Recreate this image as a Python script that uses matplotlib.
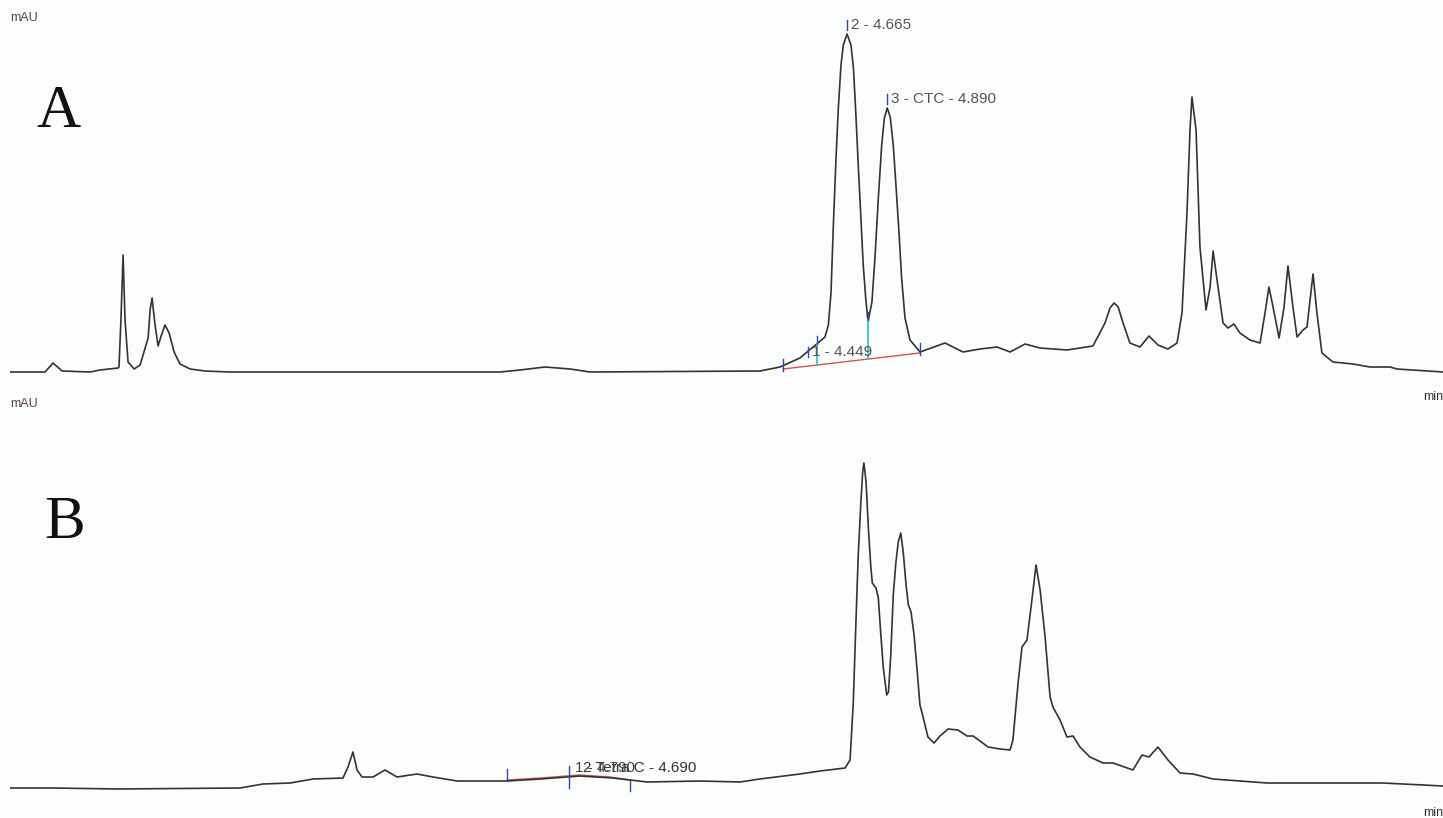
import numpy as np
import matplotlib.pyplot as plt

# ---------------- chromatogram A (time in min, signal in mAU) ----------------
time_a = [-0.043, 0.154, 0.199, 0.250, 0.407, 0.463, 0.565, 0.570, 0.581, 0.593,
          0.604, 0.621, 0.655, 0.689, 0.717, 0.734, 0.745, 0.756, 0.773, 0.790,
          0.807, 0.829, 0.852, 0.880, 0.913, 0.970, 1.054, 1.195, 2.713, 2.826,
          2.966, 3.107, 3.220, 4.175, 4.288, 4.400, 4.474, 4.541, 4.560, 4.575,
          4.588, 4.603, 4.616, 4.631, 4.644, 4.665, 4.687, 4.701, 4.714, 4.728,
          4.743, 4.756, 4.770, 4.781, 4.785, 4.805, 4.822, 4.841, 4.860, 4.875,
          4.891, 4.908, 4.925, 4.940, 4.957, 4.972, 4.991, 5.019, 5.076, 5.216,
          5.317, 5.413, 5.509, 5.582, 5.666, 5.750, 5.902, 6.048, 6.116, 6.144,
          6.167, 6.190, 6.212, 6.256, 6.313, 6.363, 6.414, 6.470, 6.521, 6.549,
          6.577, 6.594, 6.605, 6.628, 6.650, 6.684, 6.707, 6.724, 6.746, 6.780,
          6.808, 6.841, 6.875, 6.931, 6.988, 7.016, 7.038, 7.061, 7.095, 7.123,
          7.145, 7.173, 7.196, 7.230, 7.252, 7.286, 7.308, 7.336, 7.398, 7.511,
          7.607, 7.719, 7.758, 8.017]
signal_a = [0, 0, 9, 1, 0, 2, 4, 5, 52, 117,
            52, 10, 3, 7, 24, 34, 62, 74, 47, 26,
            36, 47, 39, 20, 8, 3, 1, 0, 0, 2,
            5, 3, 0, 1, 5, 14, 25, 35, 47, 80,
            147, 214, 264, 307, 327, 338, 327, 304, 260, 207,
            154, 107, 74, 54, 52, 70, 114, 174, 227, 254,
            264, 255, 227, 187, 140, 94, 54, 32, 20, 29,
            20, 23, 25, 20, 28, 24, 22, 26, 49, 64,
            69, 65, 52, 29, 25, 36, 27, 23, 29, 59,
            159, 242, 275, 242, 125, 62, 85, 121, 92, 49,
            44, 48, 39, 32, 29, 59, 85, 65, 34, 65,
            106, 65, 35, 42, 45, 98, 59, 19, 10, 8,
            5, 5, 3, 0]

peak_names_a = ["1 - 4.449", "2 - 4.665", "3 - CTC - 4.890"]
peak_times_a = [4.446, 4.665, 4.891]
label_dy_a = [-10, 0, 0]
bounds_a = [4.305, 4.496, 4.785, 5.075]   # integration start / drops / end
base_a = [3, 7, 13, 19]                   # baseline level at those times

# ---------------- chromatogram B ----------------
time_b = [-0.043, 0.199, 0.559, 1.251, 1.380, 1.532, 1.662, 1.830, 1.858, 1.886,
          1.909, 1.937, 1.999, 2.066, 2.134, 2.246, 2.336, 2.471, 2.601, 2.753,
          2.938, 3.163, 3.349, 3.540, 3.838, 4.063, 4.175, 4.400, 4.513, 4.654,
          4.682, 4.700, 4.715, 4.728, 4.742, 4.753, 4.760, 4.772, 4.785, 4.798,
          4.807, 4.828, 4.841, 4.854, 4.869, 4.888, 4.898, 4.911, 4.925, 4.940,
          4.953, 4.967, 4.981, 4.997, 5.010, 5.025, 5.042, 5.060, 5.075, 5.087,
          5.120, 5.154, 5.188, 5.233, 5.289, 5.340, 5.374, 5.413, 5.458, 5.526,
          5.582, 5.598, 5.627, 5.649, 5.677, 5.700, 5.728, 5.751, 5.779, 5.807,
          5.823, 5.863, 5.902, 5.936, 5.975, 6.031, 6.105, 6.161, 6.273, 6.324,
          6.363, 6.414, 6.470, 6.538, 6.611, 6.723, 7.027, 7.398, 7.680, 8.017]
signal_b = [0, 0, -1, 0, 4, 5, 9, 10, 21, 36,
            18, 11, 11, 18, 11, 14, 11, 7, 7, 7,
            9, 12, 10, 6, 7, 6, 9, 14, 17, 20,
            28, 85, 166, 233, 283, 316, 325, 306, 260, 223,
            205, 200, 190, 156, 120, 93, 96, 133, 193, 226,
            246, 255, 236, 203, 183, 176, 153, 116, 83, 75,
            51, 45, 52, 59, 58, 52, 52, 47, 41, 39,
            38, 48, 105, 141, 148, 181, 223, 198, 151, 91,
            81, 68, 51, 52, 41, 31, 25, 25, 18, 33,
            31, 41, 28, 15, 14, 9, 5, 5, 5, 2]

peak_names_b = ["1 - 4.790", "2 Tetra C - 4.690"]
label_time_b = 3.101
bounds_b = [2.753, 3.101, 3.444]
fit_time_b = [2.753, 2.938, 3.163, 3.332, 3.444]
fit_signal_b = [8, 10, 13, 11, 8]

W, H = 1443, 818
fig = plt.figure(figsize=(W / 100, H / 100), dpi=100, facecolor='#fcfdfd')

line_col = '#333333'
tick_col = '#3546a8'
lab_font = dict(family=['Liberation Sans', 'DejaVu Sans'], color='#555555')

axA = fig.add_axes([10 / W, 1 - 390 / H, 1433 / W, 380 / H])
axB = fig.add_axes([10 / W, 1 - 810 / H, 1433 / W, 400 / H])
for ax in (axA, axB):
    ax.set_facecolor('none')
    ax.set_xlim(-0.043, 8.017)
    ax.axis('off')
axA.set_ylim(-18, 362)
axB.set_ylim(-22, 378)

# --- panel A ---
axA.plot(time_a, signal_a, color=line_col, lw=1.2, zorder=3, solid_joinstyle='round')
axA.plot([bounds_a[0], bounds_a[-1]], [base_a[0], base_a[-1]], color='#d9534f', lw=1.0, zorder=2)
for t, b in zip(bounds_a[1:3], base_a[1:3]):
    top = np.interp(t, time_a, signal_a)
    axA.plot([t, t], [b, top], color='#35c8d0', lw=1.3, zorder=4)
    axA.plot([t, t], [top, top + 8], color=tick_col, lw=1.0, zorder=4)
for t, b in zip([bounds_a[0], bounds_a[-1]], [base_a[0], base_a[-1]]):
    axA.plot([t, t], [b - 2, b + 10], color=tick_col, lw=1.0, zorder=4)

for name, t, dy in zip(peak_names_a, peak_times_a, label_dy_a):
    top = np.interp(t, time_a, signal_a) + dy
    axA.plot([t, t], [top + 4, top + 14], color=tick_col, lw=1.0, zorder=4)
    axA.annotate(name, (t, top + 5), xytext=(3, 0), textcoords='offset points',
                 fontsize=11, va='baseline', ha='left', zorder=5, **lab_font)

# --- panel B ---
axB.plot(time_b, signal_b, color=line_col, lw=1.2, zorder=3, solid_joinstyle='round')
axB.plot(fit_time_b, fit_signal_b, color='#d9534f', lw=1.0, zorder=2)
for t, lo, hi in zip(bounds_b, [7, 0, -3], [19, 22, 7]):
    axB.plot([t, t], [lo, hi], color=tick_col, lw=1.0, zorder=4)
# the two peak labels sit on top of each other, as in the original report
y_lab = np.interp(label_time_b, time_b, signal_b) + 5
axB.annotate(peak_names_b[1], (label_time_b, y_lab), xytext=(10, 0), textcoords='offset points',
             fontsize=11, va='baseline', ha='left', color='#333333', family=lab_font['family'])
axB.annotate(peak_names_b[0], (label_time_b, y_lab), xytext=(4, 0), textcoords='offset points',
             fontsize=11, va='baseline', ha='left', color='#444444', family=lab_font['family'])

# axis captions and panel letters
small = dict(fontsize=9, family=['Liberation Sans', 'DejaVu Sans'])
fig.text(10 / W, 1 - 18 / H, 'mAU', color='#554455', va='center', ha='left', **small)
fig.text(1443 / W, 1 - 397 / H, 'min', color='#333333', va='center', ha='right', **small)
fig.text(10 / W, 1 - 404 / H, 'mAU', color='#554455', va='center', ha='left', **small)
fig.text(1443 / W, 1 - 813 / H, 'min', color='#333333', va='center', ha='right', **small)

fig.text(36 / W, 1 - 127 / H, 'A', fontsize=44, family=['Liberation Serif', 'DejaVu Serif'],
         color='#111111', va='baseline', ha='left')
fig.text(44 / W, 1 - 538 / H, 'B', fontsize=44, family=['Liberation Serif', 'DejaVu Serif'],
         color='#111111', va='baseline', ha='left')

fig.savefig('out.png', dpi=100, facecolor=fig.get_facecolor())
